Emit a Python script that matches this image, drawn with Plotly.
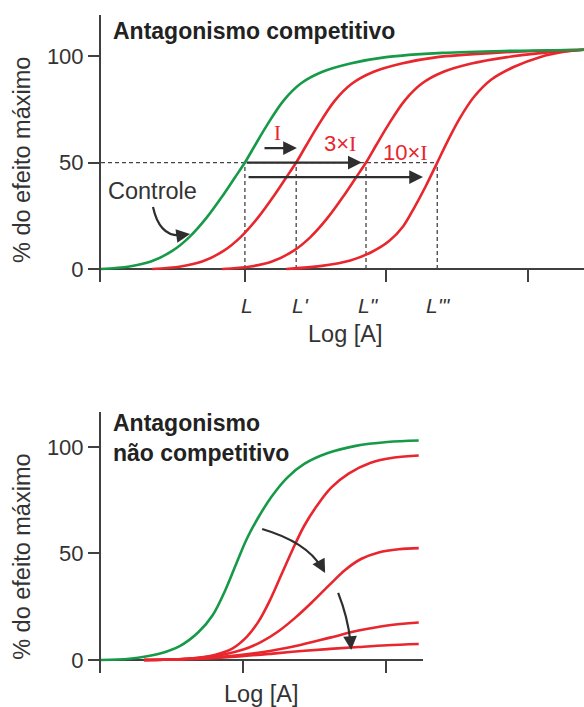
import plotly.graph_objects as go

# ---------------- data ----------------
# Top panel: competitive antagonism (x = log[A] units, y = % of max effect)
top_ctrl_x = [0.0, 0.20, 0.35, 0.50, 0.62, 0.74, 0.86, 0.94, 1.01, 1.08, 1.16, 1.28, 1.40, 1.55, 1.75, 2.0, 2.4, 2.9, 3.39]
top_ctrl_y = [0, 1.2, 3.5, 8.5, 15, 24, 35, 43, 50, 58, 67, 79, 87, 92.5, 96.5, 99.5, 101.5, 102.5, 103]

top_i1_x = [0.36, 0.56, 0.71, 0.86, 0.98, 1.10, 1.22, 1.30, 1.37, 1.44, 1.52, 1.64, 1.76, 1.91, 2.11, 2.36, 2.76, 3.1, 3.39]
top_i1_y = [0, 1.2, 3.5, 8.5, 15, 24, 35, 43, 50, 58, 67, 79, 87, 92.5, 96.5, 99.5, 101.5, 102.5, 103]

top_i3_x = [0.85, 1.05, 1.20, 1.35, 1.47, 1.59, 1.71, 1.79, 1.86, 1.93, 2.01, 2.13, 2.25, 2.40, 2.60, 2.85, 3.1, 3.39]
top_i3_y = [0, 1.2, 3.5, 8.5, 15, 24, 35, 43, 50, 58, 67, 79, 87, 92.5, 96.5, 99.5, 101.5, 103]

top_i10_x = [1.30, 1.55, 1.75, 1.90, 2.02, 2.12, 2.20, 2.28, 2.36, 2.44, 2.52, 2.62, 2.74, 2.90, 3.08, 3.25, 3.39]
top_i10_y = [0, 1.5, 4, 8, 13, 20, 29, 39, 50, 61, 71, 81, 89, 95, 99.5, 102, 103]

# EC50 positions L, L', L'', L'''
ec50_x = [1.01, 1.37, 1.86, 2.36]
ec50_labels = ["L", "L'", "L\"", "L'\""]
ec50_label_x = [1.025, 1.40, 1.875, 2.37]

top_ticks = [1.01, 2.0, 3.0]
y_ticks = [0, 50, 100]

# Bottom panel: non-competitive antagonism
bot_ctrl_x = [0.0, 0.2, 0.4, 0.55, 0.68, 0.78, 0.87, 0.95, 1.02, 1.10, 1.19, 1.30, 1.42, 1.58, 1.78, 2.0, 2.22]
bot_ctrl_y = [0, 0.6, 2.8, 6.5, 13, 21, 33, 46, 57, 67, 76.5, 85.5, 92, 97, 100.5, 102.3, 103]

bot_a_x = [0.3, 0.6, 0.8, 0.92, 1.02, 1.10, 1.18, 1.26, 1.34, 1.42, 1.51, 1.61, 1.73, 1.88, 2.05, 2.22]
bot_a_y = [0, 0.6, 2.5, 5.5, 11, 18, 28, 40, 52, 63, 72.5, 81, 87.5, 92.5, 95, 96]

bot_b_x = [0.3, 0.6, 0.85, 1.0, 1.12, 1.24, 1.36, 1.48, 1.60, 1.71, 1.82, 1.94, 2.08, 2.22]
bot_b_y = [0, 0.6, 2.5, 5, 8.5, 13.5, 20, 27.5, 35.5, 42.5, 47.5, 50.5, 52, 52.5]

bot_c_x = [0.3, 0.7, 1.0, 1.2, 1.4, 1.6, 1.8, 2.0, 2.22]
bot_c_y = [0, 0.8, 2.6, 4.5, 7.2, 10.5, 13.8, 16.2, 17.6]

bot_d_x = [0.3, 0.7, 1.0, 1.2, 1.4, 1.6, 1.8, 2.0, 2.22]
bot_d_y = [0, 0.6, 1.9, 3.0, 4.2, 5.2, 6.1, 6.9, 7.5]

bot_ticks = [0.99, 1.99]

# ---------------- styling ----------------
GREEN = "#169a48"
RED = "#e8262d"
AX = "#404040"
TXT = "#333333"
FONT = "Liberation Sans"
SERIF = "Liberation Serif"

fig = go.Figure()

def curve(x, y, color, xa, ya):
    fig.add_trace(go.Scatter(x=x, y=y, mode="lines", xaxis=xa, yaxis=ya,
                             line=dict(color=color, width=2.6, shape="spline", smoothing=1.0),
                             hoverinfo="skip", showlegend=False))

for cx, cy, col in [(top_i1_x, top_i1_y, RED), (top_i3_x, top_i3_y, RED),
                    (top_i10_x, top_i10_y, RED), (top_ctrl_x, top_ctrl_y, GREEN)]:
    curve(cx, cy, col, "x", "y")

for cx, cy, col in [(bot_d_x, bot_d_y, RED), (bot_c_x, bot_c_y, RED), (bot_b_x, bot_b_y, RED),
                    (bot_a_x, bot_a_y, RED), (bot_ctrl_x, bot_ctrl_y, GREEN)]:
    curve(cx, cy, col, "x2", "y2")

shapes = []
dash = dict(color="#444444", width=1.3, dash="4px,3px")
shapes.append(dict(type="line", xref="x", yref="y", x0=0, x1=ec50_x[-1], y0=50, y1=50, line=dash, layer="below"))
for xv in ec50_x:
    shapes.append(dict(type="line", xref="x", yref="y", x0=xv, x1=xv, y0=0, y1=50, line=dash, layer="below"))

arrow_line = dict(color="#2e2e2e", width=2.2)
shapes.append(dict(type="path", xref="x", yref="y", path="M 0.365,29.1 Q 0.414,14.0 0.585,16.0", line=arrow_line))
shapes.append(dict(type="path", xref="x2", yref="y2", path="M 1.126,61.5 Q 1.434,55.4 1.538,43.7", line=arrow_line))
shapes.append(dict(type="path", xref="x2", yref="y2", path="M 1.657,31.5 Q 1.724,20.2 1.743,8.5", line=arrow_line))

ann = []
def txt(x, y, text, xref="x", yref="y", size=23.5, color=TXT, xanchor="center", family=FONT, angle=0):
    ann.append(dict(x=x, y=y, xref=xref, yref=yref, text=text, showarrow=False,
                    xanchor=xanchor, yanchor="middle", textangle=angle, align="left",
                    font=dict(size=size, color=color, family=family)))

def arrow(x, y, ax, ay, xref="x", yref="y", size=1.25):
    ann.append(dict(x=x, y=y, ax=ax, ay=ay, xref=xref, yref=yref, axref=xref, ayref=yref,
                    text="", showarrow=True, arrowhead=2, arrowsize=size, arrowwidth=2.2,
                    arrowcolor="#2e2e2e", standoff=0, startstandoff=0))

# titles
txt(0.072, 112.0, "<b>Antagonismo competitivo</b>", size=23, xanchor="left", color="#222222")
txt(0.072, 104.0, "<b>Antagonismo<br>não competitivo</b>", xref="x2", yref="y2", size=23,
    xanchor="left", color="#222222")

# axis titles (below-axis texts use domain coordinates so they are not hidden)
txt(-0.1636, 51.2, "% do efeito máximo", xref="paper", yref="y", angle=-90)
txt(-0.1636, 48.4, "% do efeito máximo", xref="paper", yref="y2", angle=-90)
txt(1.712, -0.1946, "Log [A]", yref="y domain")
txt(1.119, -0.0808, "Log [A]", xref="x2", yref="y2 domain")

# EC50 labels
for lx, lab in zip(ec50_label_x, ec50_labels):
    txt(lx, -0.0861, "<i>" + lab + "</i>", yref="y domain", size=21)

# antagonist labels
txt(1.242, 63.8, "I", size=21, color=RED, family=SERIF)
txt(1.677, 59.0, "3×<span style='font-family:Liberation Serif'>I</span>", size=22, color=RED)
txt(2.14, 54.5, "10×<span style='font-family:Liberation Serif'>I</span>", size=22, color=RED)
txt(0.36, 36.6, "Controle")

# straight arrows
arrow(1.375, 56.8, 1.137, 56.8)
arrow(1.83, 50.0, 1.012, 50.0)
arrow(2.26, 43.2, 1.025, 43.2)

# arrow heads for curved arrows
arrow(0.625, 16.4, 0.570, 15.9)
arrow(1.566, 40.8, 1.524, 46.0, xref="x2", yref="y2")
arrow(1.748, 4.7, 1.741, 10.5, xref="x2", yref="y2")

common_y = dict(showline=True, linewidth=2, linecolor=AX, ticks="outside", ticklen=11,
                tickwidth=2, tickcolor=AX, tickvals=y_ticks, showgrid=False,
                zeroline=True, zerolinecolor=AX, zerolinewidth=2,
                tickfont=dict(size=22, color=TXT, family=FONT), fixedrange=True)
common_x = dict(showline=False, showgrid=False, zeroline=False, ticks="inside", ticklen=12,
                tickwidth=2, tickcolor=AX, showticklabels=False, fixedrange=True)

fig.update_layout(
    width=584, height=707,
    margin=dict(l=101, r=0, t=0, b=0),
    paper_bgcolor="white", plot_bgcolor="white",
    showlegend=False,
    xaxis=dict(domain=[0, 1], range=[0, 3.39], tickvals=top_ticks, anchor="y", **common_x),
    yaxis=dict(domain=[0.6011, 0.9788], range=[-6.1, 119.3], anchor="x", **common_y),
    xaxis2=dict(domain=[0, 0.6667], range=[0, 2.25], tickvals=bot_ticks, anchor="y2", **common_x),
    yaxis2=dict(domain=[0.0481, 0.4173], range=[-6.1, 116.4], anchor="x2", **common_y),
    shapes=shapes, annotations=ann,
    font=dict(family=FONT, color=TXT),
)

fig.write_html("out.html", config={"displayModeBar": False},
               post_script="document.body.style.margin='0px';document.body.style.overflow='hidden';")
